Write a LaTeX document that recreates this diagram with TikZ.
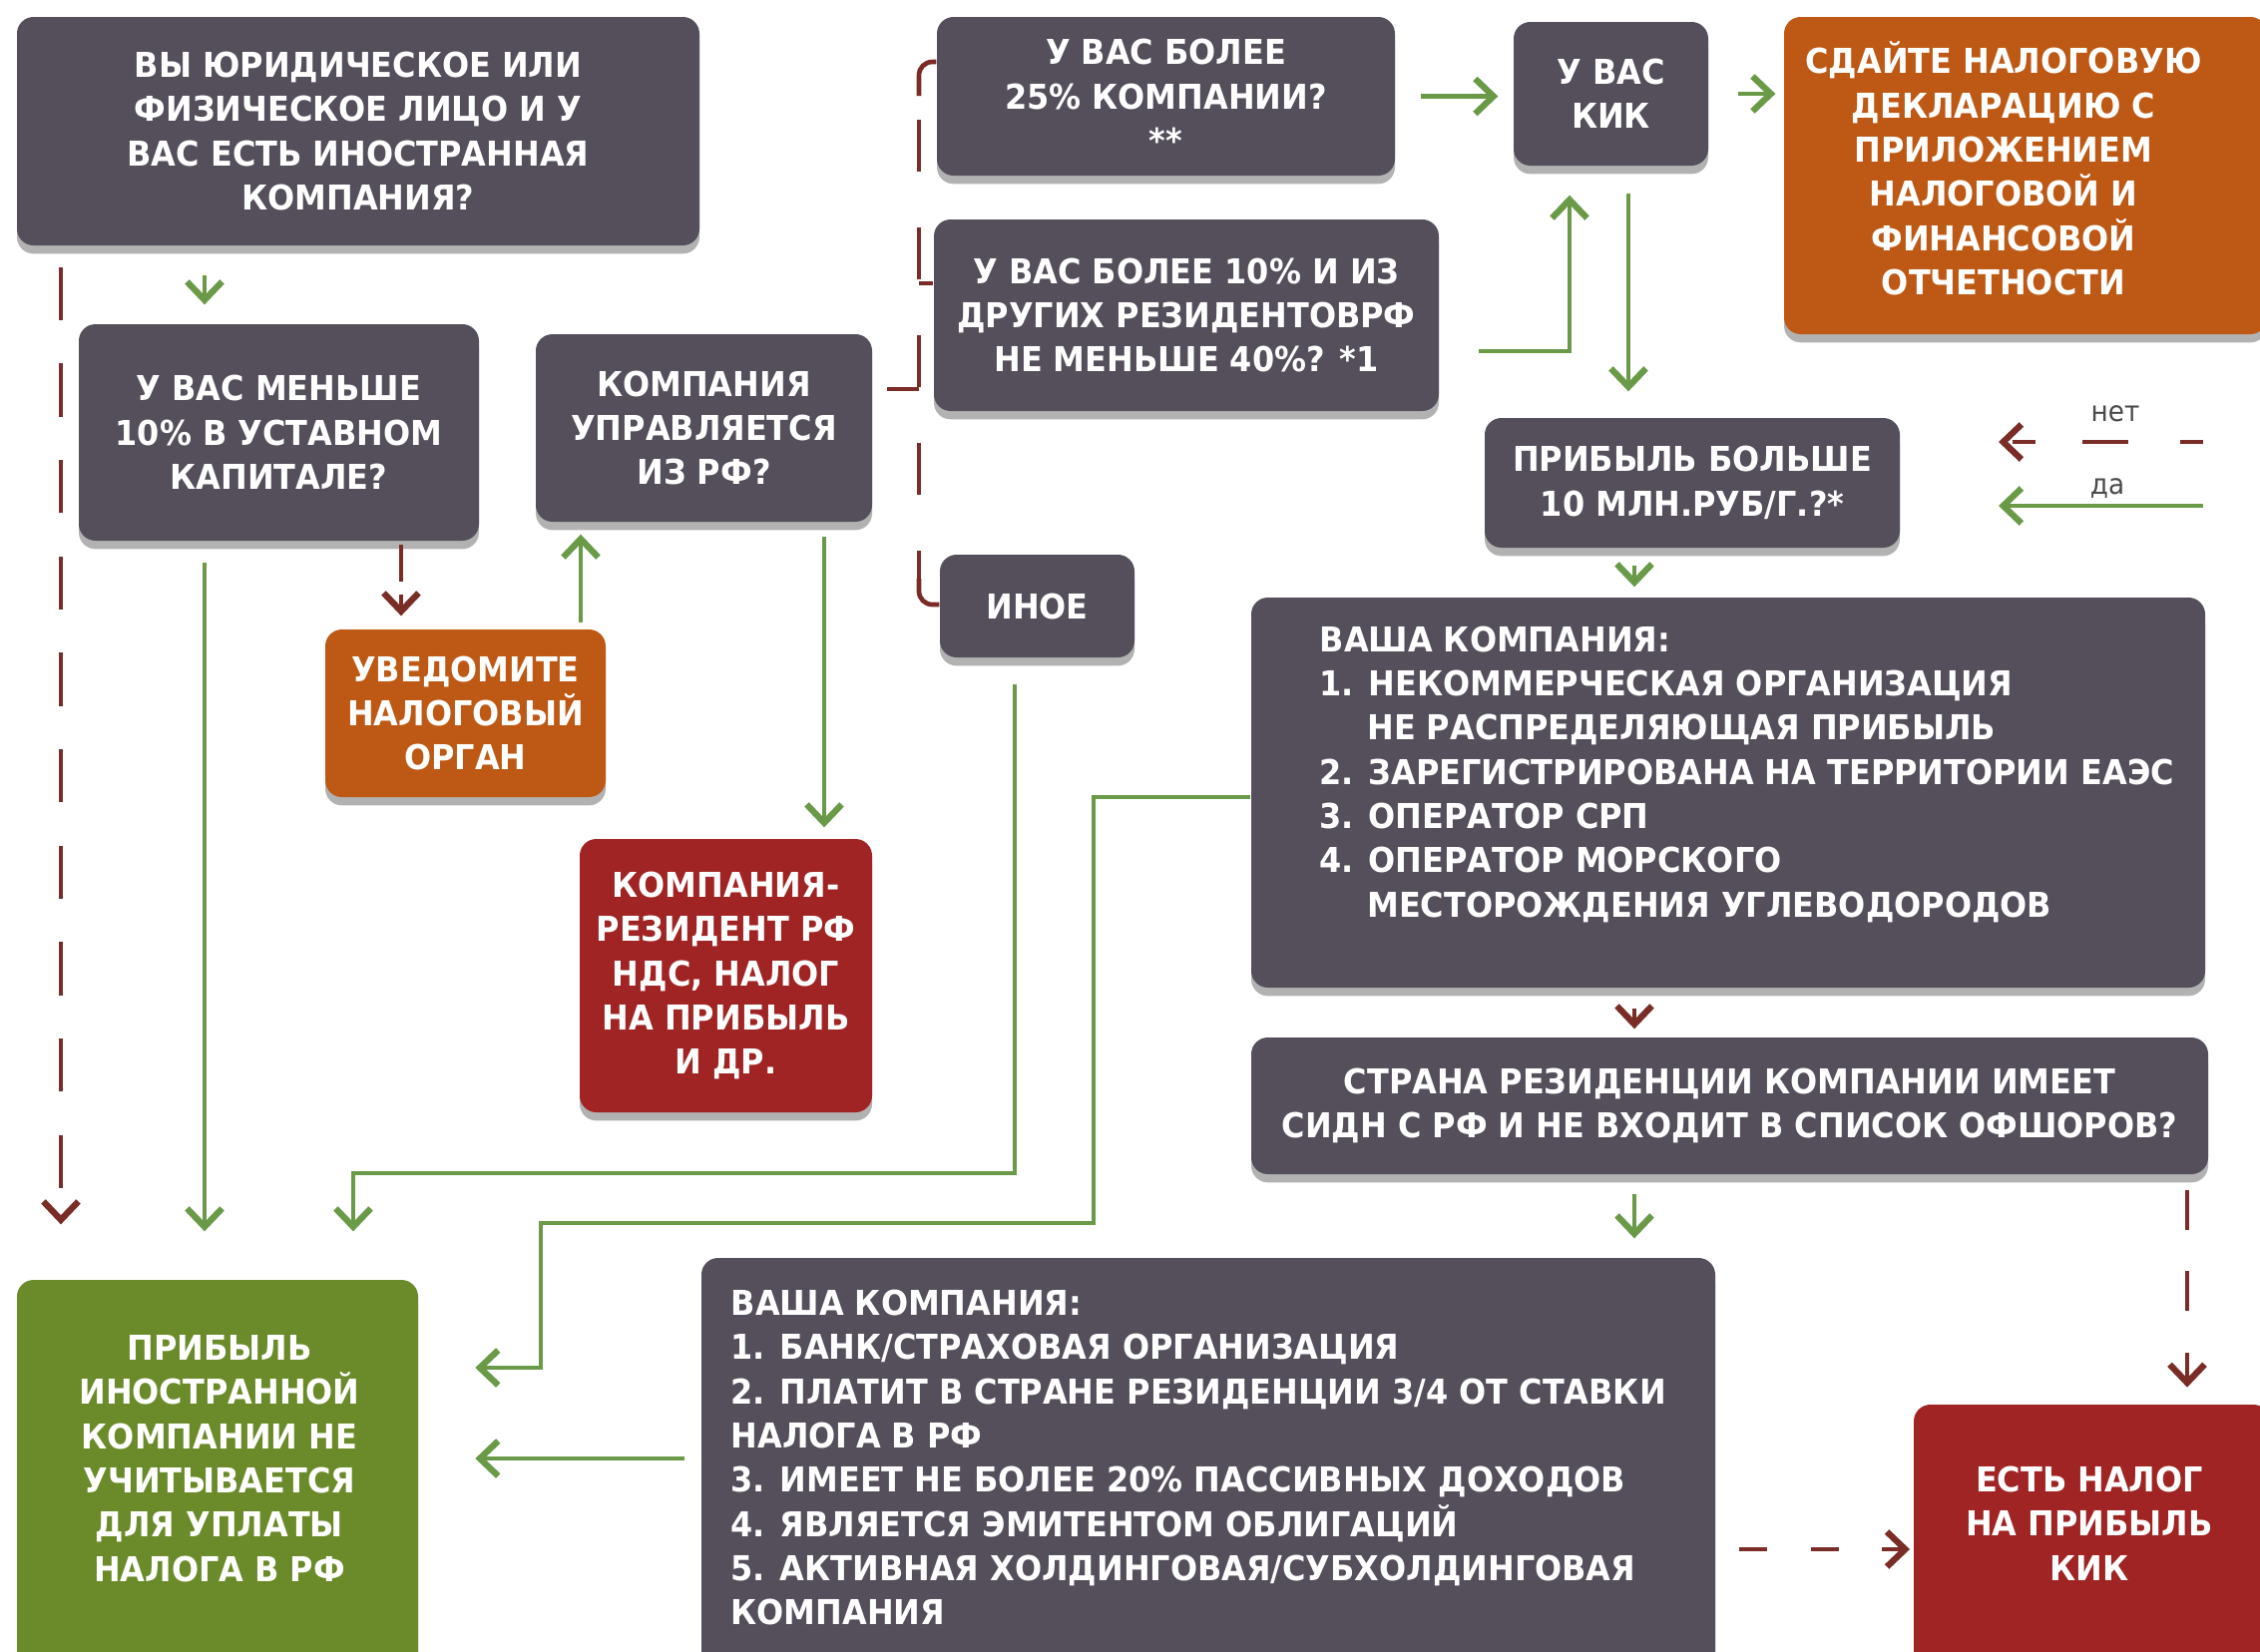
\documentclass[tikz,border=0pt]{standalone}
\usepackage{fontspec}
\setmainfont{DejaVu Sans}[FakeStretch=0.93]
\usetikzlibrary{arrows.meta,shadows,calc}
\definecolor{boxgray}{HTML}{544F5B}
\definecolor{boxorange}{HTML}{BD5914}
\definecolor{boxred}{HTML}{A02424}
\definecolor{boxgreen}{HTML}{6B8A2A}
\definecolor{lngreen}{HTML}{6A9A48}
\definecolor{lnred}{HTML}{7A2C27}
\definecolor{legtext}{HTML}{4A4A4A}
\tikzset{
  boxfont/.style={font=\bfseries\fontsize{10.3pt}{13.3pt}\selectfont},
  base/.style={boxfont, rounded corners=5pt, inner sep=2pt, align=center, text=white,
    drop shadow={shadow xshift=0pt, shadow yshift=-2.5pt, opacity=0.3, fill=black}},
  sz/.style 2 args={minimum width=#1*0.3pt, minimum height=#2*0.3pt},
  gbox/.style={base, fill=boxgray},
  obox/.style={base, fill=boxorange},
  rbox/.style={base, fill=boxred},
  grbox/.style={base, fill=boxgreen},
  ctxt/.style={boxfont, align=center, text=white, inner sep=0pt},
  ltxt/.style={boxfont, align=left, text=white, inner sep=0pt, anchor=west},
  legt/.style={font=\fontsize{8.5pt}{10pt}\selectfont, text=legtext, inner sep=0pt, anchor=base},
  tip/.style={-{Straight Barb[length=5.5pt,width=10.5pt,line width=1.9pt]}},
  gline/.style={draw=lngreen, line width=1.4pt},
  garrow/.style={gline, tip},
  rline/.style={draw=lnred, line width=1.4pt},
  rarrow/.style={rline, tip},
  rdash/.style={rline, dash pattern=on 16pt off 13pt},
  rdarrow/.style={rarrow, dash pattern=on 16pt off 13pt},
}
\begin{document}
\begin{tikzpicture}[x=0.3pt,y=-0.3pt]
\fill[white] (0,0) rectangle (2265,1656);
\useasboundingbox (0,0) rectangle (2265,1656);

% ---------- boxes ----------
\node[gbox, sz={684}{229}] (A) at (359,131.5) {ВЫ ЮРИДИЧЕСКОЕ ИЛИ\\ФИЗИЧЕСКОЕ ЛИЦО И У\\ВАС ЕСТЬ ИНОСТРАННАЯ\\КОМПАНИЯ?};
\node[gbox, sz={401}{217}] (B) at (279.5,433.5) {У ВАС МЕНЬШЕ\\10\% В УСТАВНОМ\\КАПИТАЛЕ?};
\node[gbox, sz={337}{188}] (C) at (705.5,429) {КОМПАНИЯ\\УПРАВЛЯЕТСЯ\\ИЗ РФ?};
\node[obox, sz={281}{168}] (D) at (466.5,715) {УВЕДОМИТЕ\\НАЛОГОВЫЙ\\ОРГАН};
\node[rbox, sz={293}{274}] (E) at (727.5,978) {КОМПАНИЯ-\\РЕЗИДЕНТ РФ\\НДС, НАЛОГ\\НА ПРИБЫЛЬ\\И ДР.};
\node[gbox, sz={459}{159}] (F) at (1168.5,96.5) {У ВАС БОЛЕЕ\\25\% КОМПАНИИ?\\**};
\node[gbox, sz={506}{192}] (G) at (1189,316) {У ВАС БОЛЕЕ 10\% И ИЗ\\ДРУГИХ РЕЗИДЕНТОВРФ\\НЕ МЕНЬШЕ 40\%? *1};
\node[gbox, sz={195}{103}] (H) at (1039.5,607.5) {ИНОЕ};
\node[gbox, sz={195}{144}] (I) at (1614.5,94) {У ВАС\\КИК};
\node[obox, sz={484}{318}] (J) at (2030,176) {};
\node[ctxt] (Jt) at (2008,169) {СДАЙТЕ НАЛОГОВУЮ\\ДЕКЛАРАЦИЮ С\\ПРИЛОЖЕНИЕМ\\НАЛОГОВОЙ И\\ФИНАНСОВОЙ\\ОТЧЕТНОСТИ};
\node[gbox, sz={416}{130}] (K) at (1696,484) {ПРИБЫЛЬ БОЛЬШЕ\\10 МЛН.РУБ/Г.?*};
\node[gbox, sz={956}{391}] (L) at (1732,794.5) {};
\node[ltxt] (Lt) at (1322,776) {ВАША КОМПАНИЯ:\\1. НЕКОММЕРЧЕСКАЯ ОРГАНИЗАЦИЯ\\\hspace*{14.3pt}НЕ РАСПРЕДЕЛЯЮЩАЯ ПРИБЫЛЬ\\2. ЗАРЕГИСТРИРОВАНА НА ТЕРРИТОРИИ ЕАЭС\\3. ОПЕРАТОР СРП\\4. ОПЕРАТОР МОРСКОГО\\\hspace*{14.3pt}МЕСТОРОЖДЕНИЯ УГЛЕВОДОРОДОВ};
\node[gbox, sz={959}{137}] (M) at (1733.5,1108.5) {СТРАНА РЕЗИДЕНЦИИ КОМПАНИИ ИМЕЕТ\\СИДН С РФ И НЕ ВХОДИТ В СПИСОК ОФШОРОВ?};
\node[grbox, sz={402}{407}] (N) at (218,1486.5) {};
\node[ctxt] (Nt) at (220,1462) {ПРИБЫЛЬ\\ИНОСТРАННОЙ\\КОМПАНИИ НЕ\\УЧИТЫВАЕТСЯ\\ДЛЯ УПЛАТЫ\\НАЛОГА В РФ};
\node[gbox, sz={1016}{429}] (O) at (1211,1475.5) {};
\node[ltxt] (Ot) at (732,1461) {ВАША КОМПАНИЯ:\\1. БАНК/СТРАХОВАЯ ОРГАНИЗАЦИЯ\\2. ПЛАТИТ В СТРАНЕ РЕЗИДЕНЦИИ 3/4 ОТ СТАВКИ\\НАЛОГА В РФ\\3. ИМЕЕТ НЕ БОЛЕЕ 20\% ПАССИВНЫХ ДОХОДОВ\\4. ЯВЛЯЕТСЯ ЭМИТЕНТОМ ОБЛИГАЦИЙ\\5. АКТИВНАЯ ХОЛДИНГОВАЯ/СУБХОЛДИНГОВАЯ\\КОМПАНИЯ};
\node[rbox, sz={357}{282}] (P) at (2096.5,1549) {};
\node[ctxt] (Pt) at (2094,1527) {ЕСТЬ НАЛОГ\\НА ПРИБЫЛЬ\\КИК};

% ---------- guide coordinates ----------
\coordinate (xL) at (61,0);
\coordinate (xAB) at (205,0);
\coordinate (xBD) at (402,0);
\coordinate (xDC) at (582,0);
\coordinate (xCE) at (826,0);
\coordinate (bt) at (921,62);
\coordinate (bt2) at (921,96);
\coordinate (bb2) at (921,580);
\coordinate (bb) at (921,606);
\coordinate (bg) at (921,284);
\coordinate (bc) at (921,390);
\coordinate (gi) at (1573,352);
\coordinate (xIK) at (1632,0);
\coordinate (xK) at (1638,0);
\coordinate (xMP) at (2192,0);
\coordinate (yOP) at (0,1553);
\coordinate (yON) at (0,1462);
\coordinate (h1) at (1017,1176);
\coordinate (h2) at (354,1176);
\coordinate (l1) at (1096,799);
\coordinate (l2) at (1096,1226);
\coordinate (l3) at (542,1226);
\coordinate (l4) at (542,1371);

% ---------- connectors ----------
\draw[garrow, shorten <=8.7pt, shorten >=5.7pt] (A.south -| xAB) -- (B.north -| xAB);
\draw[rdarrow, shorten <=6.3pt, shorten >=16.5pt] (A.south -| xL) -- (N.north -| xL);
\draw[garrow, shorten <=6.3pt, shorten >=14.4pt] (B.south -| xAB) -- (N.north -| xAB);
\draw[rarrow, dash pattern=on 11pt off 4pt, shorten <=1pt, shorten >=3.9pt] (B.south -| xBD) -- (D.north -| xBD);
\draw[garrow, shorten <=2pt, shorten >=3.6pt] (D.north -| xDC) -- (C.south -| xDC);
\draw[garrow, shorten <=4.2pt, shorten >=3.3pt] (C.south -| xCE) -- (E.north -| xCE);

% bracket C -> F / G / H
\draw[rline, rounded corners=4pt] (F.west |- bt) -- (bt) -- (bt2);
\draw[rline, dash pattern=on 15.6pt off 16.8pt, dash phase=25.2pt] (bt2) -- (bb2);
\draw[rline, rounded corners=4pt] (bb2) -- (bb) -- (H.west |- bb);
\draw[rline] (bg) -- (G.west |- bg);
\draw[rline, shorten <=4.2pt] (C.east |- bc) -- (bc);

\draw[garrow, shorten <=7.5pt, shorten >=4.5pt] (F.east) -- (F.east -| I.west);
\draw[garrow, shorten <=8.7pt, shorten >=2.4pt] (I.east) -- (I.east -| J.west);
\draw[garrow, shorten <=11.7pt, shorten >=8.7pt] (G.east |- gi) -- (gi) -- (gi |- I.south);
\draw[garrow, shorten <=8.1pt, shorten >=7.8pt] (I.south -| xIK) -- (K.north -| xIK);
\draw[garrow, shorten <=5.1pt, shorten >=3pt] (K.south -| xK) -- (L.north -| xK);
\draw[rarrow, shorten <=6pt, shorten >=2.4pt] (L.south -| xK) -- (M.north -| xK);
\draw[garrow, shorten <=5.7pt, shorten >=5.7pt] (M.south -| xK) -- (O.north -| xK);
\draw[rarrow, dash pattern=on 12pt off 12.5pt, shorten <=4.5pt, shorten >=5pt] (M.south -| xMP) -- (P.north -| xMP);
\draw[rarrow, dash pattern=on 8.5pt off 13pt, shorten <=7pt, shorten >=1pt] (O.east |- yOP) -- (P.west |- yOP);
\draw[garrow, shorten <=5pt, shorten >=17pt] (O.west |- yON) -- (N.east |- yON);
\draw[garrow, shorten <=7.8pt, shorten >=14.4pt] (H.south -| h1) -- (h1) -- (h2) -- (h2 |- N.north);
\draw[garrow, shorten >=17pt] (L.west |- l1) -- (l1) -- (l2) -- (l3) -- (l4) -- (l4 -| N.east);

% ---------- legend ----------
\coordinate (lg1) at (2208,443);
\coordinate (lg2) at (2003,443);
\coordinate (lg3) at (2208,507);
\coordinate (lg4) at (2003,507);
\draw[rarrow, dash pattern=on 7pt off 15.6pt on 13.8pt off 14pt] (lg1) -- (lg2);
\draw[garrow] (lg3) -- (lg4);
\node[legt] (net) at (2120,422) {нет};
\node[legt] (da) at (2112,495) {да};
\end{tikzpicture}
\end{document}
